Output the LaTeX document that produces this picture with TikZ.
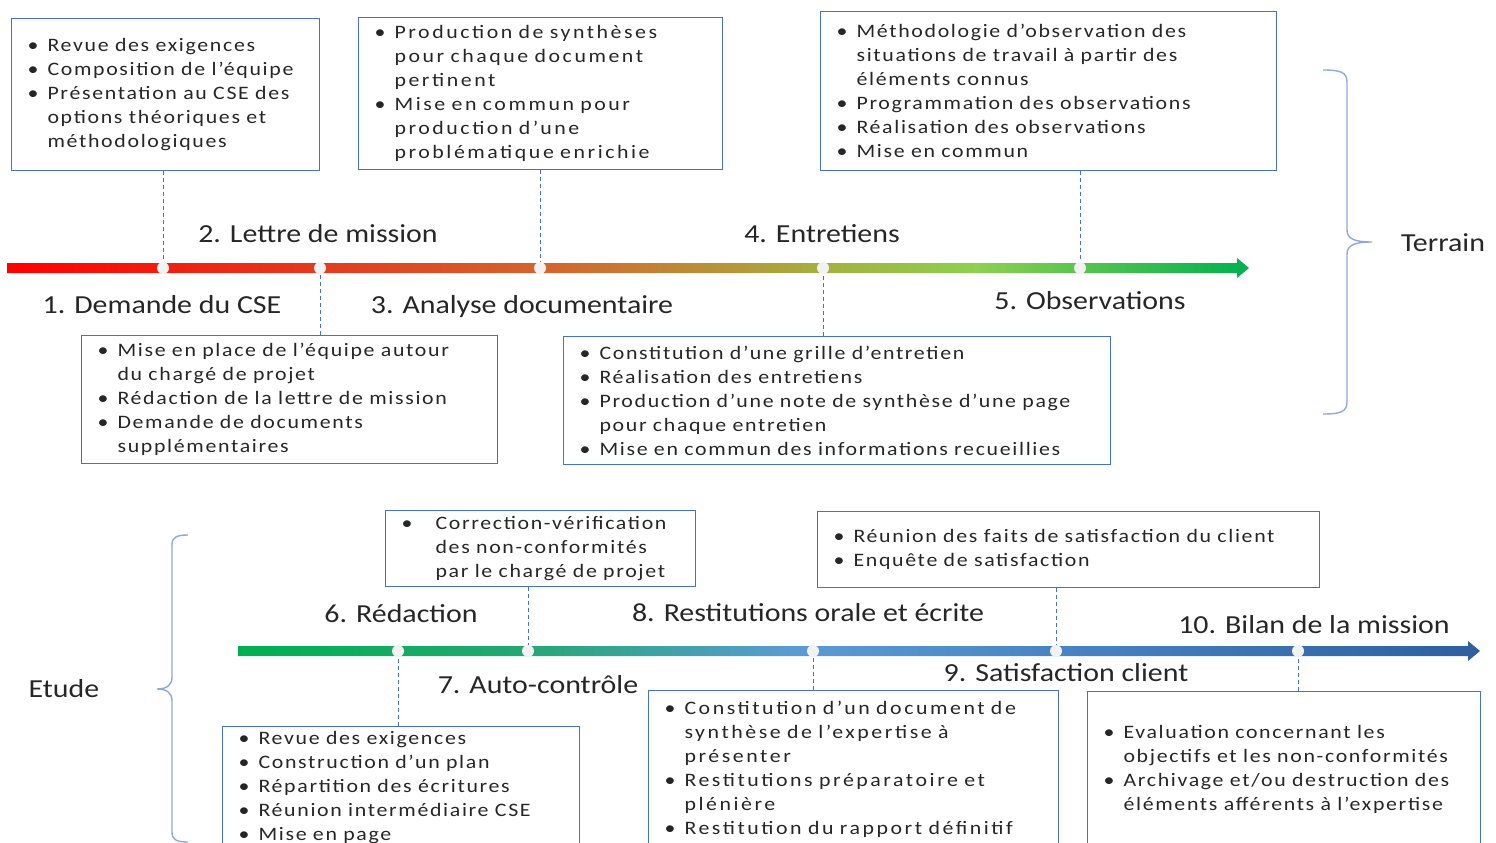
\documentclass[tikz,border=0pt]{standalone}
\usepackage{fontspec}
\setmainfont{Carlito}[FakeStretch=1.15]
\newfontfamily\boxfont{Carlito}[FakeStretch=1.15,LetterSpace=8.8]
\newfontfamily\wideboxfont{Carlito}[FakeStretch=1.15,LetterSpace=13.4]

\definecolor{boxblue}{HTML}{4472C4}
\definecolor{braceblue}{HTML}{8EA9DB}
\definecolor{textgray}{HTML}{262626}
\definecolor{dotgray}{HTML}{F2F2F2}
\definecolor{t0}{HTML}{FF0000}
\definecolor{t1}{HTML}{E33A20}
\definecolor{t2}{HTML}{D2692E}
\definecolor{t3}{HTML}{A6AE3E}
\definecolor{t4}{HTML}{8ED04F}
\definecolor{t5}{HTML}{00B050}
\definecolor{e0}{HTML}{00B050}
\definecolor{e1}{HTML}{22A870}
\definecolor{e2}{HTML}{5B9BD5}
\definecolor{e3}{HTML}{4580C0}
\definecolor{e4}{HTML}{2E5F9E}

\pgfdeclarehorizontalshading{terrainline}{100bp}{color(0bp)=(t0); color(25bp)=(t0);
  color(37.5bp)=(t1); color(47.5bp)=(t2); color(57.5bp)=(t3); color(64bp)=(t4);
  color(75bp)=(t5); color(100bp)=(t5)}
\pgfdeclarehorizontalshading{etudeline}{100bp}{color(0bp)=(e0); color(25bp)=(e0);
  color(36bp)=(e1); color(47.5bp)=(e2); color(60bp)=(e3); color(75bp)=(e4);
  color(100bp)=(e4)}

\newcommand{\itm}[2][17pt]{\mbox{\makebox[#1][l]{\hspace*{-3pt}\textbullet}#2}}
\newcommand{\cont}[2][17pt]{\mbox{\hspace*{#1}#2}}

\begin{document}
\begin{tikzpicture}[x=1pt, y=-1pt,
    box/.style={
        draw=boxblue,
        line width=1.1pt,
        anchor=north west,
        align=left,
        inner xsep=19pt,
        inner ysep=0pt,
        text=textgray,
        font=\boxfont\fontsize{19}{24}\selectfont},
    widebox/.style={
        box,
        font=\wideboxfont\fontsize{19}{24}\selectfont},
    lab/.style={
        anchor=base,
        inner sep=0pt,
        text=textgray,
        font=\fontsize{26}{30}\selectfont},
    dot/.style={
        circle,
        fill=dotgray,
        inner sep=0pt,
        minimum size=12pt},
    link/.style={
        draw=boxblue,
        line width=0.7pt,
        dash pattern=on 4pt off 3pt},
    brace/.style={
        draw=braceblue,
        line width=1.4pt}]

    \useasboundingbox (0,0) rectangle (1496,843);

    \shade[shading=terrainline] (7,263) -- (1237,263) -- (1237,258) -- (1249,268)
        -- (1237,278) -- (1237,273) -- (7,273) -- cycle;
    \shade[shading=etudeline] (238,646) -- (1468,646) -- (1468,641) -- (1480,651)
        -- (1468,661) -- (1468,656) -- (238,656) -- cycle;

    \node[dot] (P1) at (163,268) {};
    \node[dot] (P2) at (320,268) {};
    \node[dot] (P3) at (540,268) {};
    \node[dot] (P4) at (823,268) {};
    \node[dot] (P5) at (1080,268) {};
    \node[dot] (P6) at (398,651) {};
    \node[dot] (P7) at (528,651) {};
    \node[dot] (P8) at (813,651) {};
    \node[dot] (P9) at (1056,651) {};
    \node[dot] (P10) at (1298,651) {};

    \node[box, minimum width=308pt, minimum height=152pt, text width=270pt] (A) at (11,18) {%
        \itm{Revue des exigences}\\
        \itm{Composition de l’équipe}\\
        \itm{Présentation au CSE des}\\
        \cont{options théoriques et}\\
        \cont{méthodologiques}};
    \node[widebox, minimum width=364pt, minimum height=152pt, text width=326pt] (B) at (358,17) {%
        \itm{Production de synthèses}\\
        \cont{pour chaque document}\\
        \cont{pertinent}\\
        \itm{Mise en commun pour}\\
        \cont{production d’une}\\
        \cont{problématique enrichie}};
    \node[box, minimum width=456pt, minimum height=159pt, text width=418pt] (C) at (820,11) {%
        \itm{Méthodologie d’observation des}\\
        \cont{situations de travail à partir des}\\
        \cont{éléments connus}\\
        \itm{Programmation des observations}\\
        \itm{Réalisation des observations}\\
        \itm{Mise en commun}};
    \node[box, minimum width=416pt, minimum height=128pt, text width=378pt] (D) at (81,335) {%
        \itm{Mise en place de l’équipe autour}\\
        \cont{du chargé de projet}\\
        \itm{Rédaction de la lettre de mission}\\
        \itm{Demande de documents}\\
        \cont{supplémentaires}};
    \node[box, minimum width=547pt, minimum height=128pt, text width=509pt] (E) at (563,336) {%
        \itm{Constitution d’une grille d’entretien}\\
        \itm{Réalisation des entretiens}\\
        \itm{Production d’une note de synthèse d’une page}\\
        \cont{pour chaque entretien}\\
        \itm{Mise en commun des informations recueillies}};

    \node[box, minimum width=310pt, minimum height=76pt, text width=272pt] (F) at (385,510) {%
        \itm[31pt]{Correction-vérification}\\
        \cont[31pt]{des non-conformités}\\
        \cont[31pt]{par le chargé de projet}};
    \node[box, minimum width=502pt, minimum height=76pt, text width=464pt] (G) at (817,511) {%
        \itm{Réunion des faits de satisfaction du client}\\
        \itm{Enquête de satisfaction}};
    \node[box, minimum width=357pt, minimum height=122pt, text width=319pt] (H) at (222,726) {%
        \itm{Revue des exigences}\\
        \itm{Construction d’un plan}\\
        \itm{Répartition des écritures}\\
        \itm{Réunion intermédiaire CSE}\\
        \itm{Mise en page}};
    \node[widebox, minimum width=410pt, minimum height=158pt, text width=372pt] (I) at (648,690) {%
        \itm{Constitution d’un document de}\\
        \cont{synthèse de l’expertise à}\\
        \cont{présenter}\\
        \itm{Restitutions préparatoire et}\\
        \cont{plénière}\\
        \itm{Restitution du rapport définitif}};
    \node[box, minimum width=393pt, minimum height=156pt, text width=355pt] (J) at (1087,691) {%
        \itm{Evaluation concernant les}\\
        \cont{objectifs et les non-conformités}\\
        \itm{Archivage et/ou destruction des}\\
        \cont{éléments afférents à l’expertise}};

    \draw[link] (A.south -| P1) -- (P1);
    \draw[link] (D.north -| P2) -- (P2);
    \draw[link] (B.south -| P3) -- (P3);
    \draw[link] (E.north -| P4) -- (P4);
    \draw[link] (C.south -| P5) -- (P5);
    \draw[link] (H.north -| P6) -- (P6);
    \draw[link] (F.south -| P7) -- (P7);
    \draw[link] (I.north -| P8) -- (P8);
    \draw[link] (G.south -| P9) -- (P9);
    \draw[link] (J.north -| P10) -- (P10);

    \node[lab] (L1) at (162,313) {1. Demande du CSE};
    \node[lab] (L2) at (318,242) {2. Lettre de mission};
    \node[lab] (L3) at (522,313) {3. Analyse documentaire};
    \node[lab] (L4) at (822,242) {4. Entretiens};
    \node[lab] (L5) at (1090,309) {5. Observations};
    \node[lab] (L6) at (401,622) {6. Rédaction};
    \node[lab] (L7) at (538,693) {7. Auto-contrôle};
    \node[lab] (L8) at (808,621) {8. Restitutions orale et écrite};
    \node[lab] (L9) at (1066,681) {9. Satisfaction client};
    \node[lab] (L10) at (1314,633) {10. Bilan de la mission};

    \draw[brace] (1323,70) .. controls (1340,70) and (1347,72) .. (1347,82) -- (1347,230)
        .. controls (1347,239) and (1355,242) .. (1372,242)
        .. controls (1355,242) and (1347,245) .. (1347,254) -- (1347,402)
        .. controls (1347,412) and (1340,414) .. (1323,414);
    \node[lab] (T) at (1443,251) {Terrain};

    \draw[brace] (188,535) .. controls (177,535) and (172,537) .. (172,545) -- (172,677)
        .. controls (172,685) and (167,689) .. (157,689)
        .. controls (167,689) and (172,693) .. (172,701) -- (172,832)
        .. controls (172,840) and (177,842) .. (188,842);
    \node[lab] (U) at (64,697) {Etude};
\end{tikzpicture}
\end{document}
